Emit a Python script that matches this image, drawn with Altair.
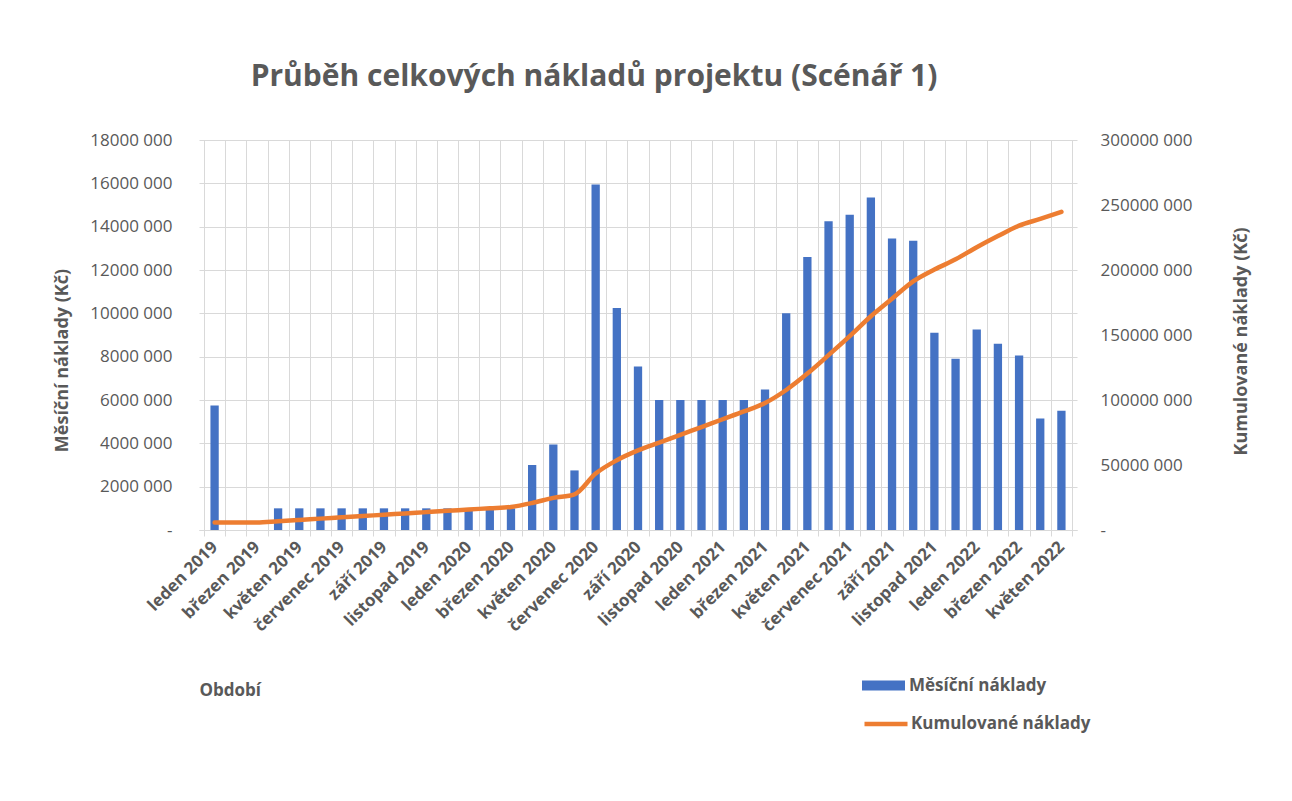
import json
import altair as alt
import pandas as pd

# ---- data ----
months = [
    "leden 2019", "únor 2019", "březen 2019", "duben 2019", "květen 2019", "červen 2019",
    "červenec 2019", "srpen 2019", "září 2019", "říjen 2019", "listopad 2019", "prosinec 2019",
    "leden 2020", "únor 2020", "březen 2020", "duben 2020", "květen 2020", "červen 2020",
    "červenec 2020", "srpen 2020", "září 2020", "říjen 2020", "listopad 2020", "prosinec 2020",
    "leden 2021", "únor 2021", "březen 2021", "duben 2021", "květen 2021", "červen 2021",
    "červenec 2021", "srpen 2021", "září 2021", "říjen 2021", "listopad 2021", "prosinec 2021",
    "leden 2022", "únor 2022", "březen 2022", "duben 2022", "květen 2022",
]

monthly_costs = [
    5750000, 0, 0, 1000000, 1000000, 1000000,
    1000000, 1000000, 1000000, 1000000, 1000000, 1000000,
    1000000, 1000000, 1000000, 3000000, 3950000, 2750000,
    15950000, 10250000, 7550000, 6000000, 6000000, 6000000,
    6000000, 6000000, 6480000, 10000000, 12600000, 14250000,
    14550000, 15350000, 13450000, 13350000, 9100000, 7900000,
    9250000, 8600000, 8050000, 5150000, 5500000,
]

cumulative_costs = [
    5750000, 5750000, 5750000, 6750000, 7750000, 8750000,
    9750000, 10750000, 11750000, 12750000, 13750000, 14750000,
    15750000, 16750000, 17750000, 20750000, 24700000, 27450000,
    43400000, 53650000, 61200000, 67200000, 73200000, 79200000,
    85200000, 91200000, 97700000, 107700000, 120300000, 134500000,
    149100000, 164400000, 177900000, 191200000, 200300000, 208200000,
    217500000, 226100000, 234100000, 239300000, 244800000,
]

SERIES_BAR = "Měsíční náklady"
SERIES_LINE = "Kumulované náklady"

df = pd.DataFrame({
    "i": list(range(len(months))),
    "mesic": months,
    "mesicni": monthly_costs,
    "kumulovane": cumulative_costs,
})

FONT = "Open Sans"
TXT = "#595959"
GRID = "#D9D9D9"
BLUE = "#4472C4"
ORANGE = "#ED7D31"

n = len(months)
x_scale = alt.Scale(domain=[-0.5, n - 0.5], nice=False, zero=False)
boundaries = [k - 0.5 for k in range(n + 1)]
label_positions = list(range(0, n, 2))
label_expr = json.dumps(months, ensure_ascii=False) + "[datum.value]"

thousands_expr = "datum.value == 0 ? '-' : format(datum.value / 1000, 'd') + ' 000'"

base = alt.Chart(df)

bars = base.transform_calculate(serie=json.dumps(SERIES_BAR, ensure_ascii=False)).mark_bar(width=8.3).encode(
    x=alt.X(
        "i:Q",
        scale=x_scale,
        axis=alt.Axis(
            orient="bottom",
            values=boundaries,
            labels=False,
            grid=True,
            gridColor=GRID,
            gridWidth=1,
            ticks=True,
            tickColor=GRID,
            tickSize=6,
            tickWidth=1,
            domain=True,
            domainColor=GRID,
            domainWidth=1,
            title="Období",
            titleFont=FONT,
            titleFontSize=17,
            titleFontWeight="bold",
            titleColor=TXT,
            titleAnchor="start",
            titleAlign="left",
            titleBaseline="middle",
            titleX=0,
            titleY=160,
        ),
    ),
    y=alt.Y(
        "mesicni:Q",
        scale=alt.Scale(domain=[0, 18000000], nice=False),
        axis=alt.Axis(
            orient="left",
            values=list(range(0, 18000001, 2000000)),
            labelExpr=thousands_expr,
            grid=True,
            gridColor=GRID,
            gridWidth=1,
            ticks=False,
            domain=False,
            labelFont=FONT,
            labelFontSize=17,
            labelColor=TXT,
            labelPadding=27,
            title="Měsíční náklady (Kč)",
            titleFont=FONT,
            titleFontSize=18,
            titleFontWeight="bold",
            titleColor=TXT,
            titleAngle=-90,
            titleAlign="center",
            titleBaseline="middle",
            titleX=-137,
            titleY=220,
        ),
    ),
    fill=alt.Fill(
        "serie:N",
        scale=alt.Scale(domain=[SERIES_BAR], range=[BLUE]),
        legend=alt.Legend(
            orient="none",
            legendX=663,
            legendY=524,
            title=None,
            padding=0,
            symbolType="M-1,-0.2326H1V0.2326H-1Z",
            symbolSize=1849,
            symbolStrokeWidth=0,
            labelFont=FONT,
            labelFontSize=17,
            labelFontWeight="bold",
            labelColor=TXT,
            labelOffset=4,
            labelLimit=400,
        ),
    ),
)

line = base.transform_calculate(serie=json.dumps(SERIES_LINE, ensure_ascii=False)).mark_line(
    strokeWidth=4.5, interpolate="monotone", strokeCap="round"
).encode(
    x=alt.X(
        "i:Q",
        scale=x_scale,
        axis=alt.Axis(
            orient="bottom",
            values=label_positions,
            labelExpr=label_expr,
            labelAngle=-45,
            labelAlign="right",
            labelBaseline="middle",
            labelPadding=14,
            labelFont=FONT,
            labelFontSize=17,
            labelFontWeight="bold",
            labelColor=TXT,
            labelOverlap=False,
            labelBound=False,
            labelFlush=False,
            labelLimit=400,
            grid=False,
            ticks=False,
            domain=False,
            title=None,
        ),
    ),
    y=alt.Y(
        "kumulovane:Q",
        scale=alt.Scale(domain=[0, 300000000], nice=False),
        axis=alt.Axis(
            orient="right",
            values=list(range(0, 300000001, 50000000)),
            labelExpr=thousands_expr,
            grid=False,
            ticks=False,
            domain=False,
            labelFont=FONT,
            labelFontSize=17,
            labelColor=TXT,
            labelPadding=23,
            title="Kumulované náklady (Kč)",
            titleFont=FONT,
            titleFontSize=18,
            titleFontWeight="bold",
            titleColor=TXT,
            titleAngle=270,
            titleAlign="center",
            titleBaseline="middle",
            titleX=164,
            titleY=201,
        ),
    ),
    stroke=alt.Stroke(
        "serie:N",
        scale=alt.Scale(domain=[SERIES_LINE], range=[ORANGE]),
        legend=alt.Legend(
            orient="none",
            legendX=663,
            legendY=560,
            title=None,
            padding=0,
            symbolType="stroke",
            symbolSize=1849,
            symbolStrokeWidth=4.5,
            labelFont=FONT,
            labelFontSize=17,
            labelFontWeight="bold",
            labelColor=TXT,
            labelOffset=1,
            labelLimit=400,
        ),
    ),
)

chart = (
    alt.layer(bars, line)
    .resolve_scale(y="independent", fill="independent", stroke="independent")
    .resolve_axis(x="independent", y="independent")
    .properties(
        width=878,
        height=390,
        autosize=alt.AutoSizeParams(type="none"),
        padding={"left": 191, "top": 132, "right": 190, "bottom": 250},
        title=alt.TitleParams(
            "Průběh celkových nákladů projektu (Scénář 1)",
            font=FONT,
            fontSize=30,
            fontWeight="bold",
            color=TXT,
            anchor="middle",
            baseline="alphabetic",
            offset=15,
            dx=-44,
        ),
        background="white",
    )
    .configure_view(stroke=None)
)

chart.save("out.html", embed_options={"renderer": "svg", "actions": False})
